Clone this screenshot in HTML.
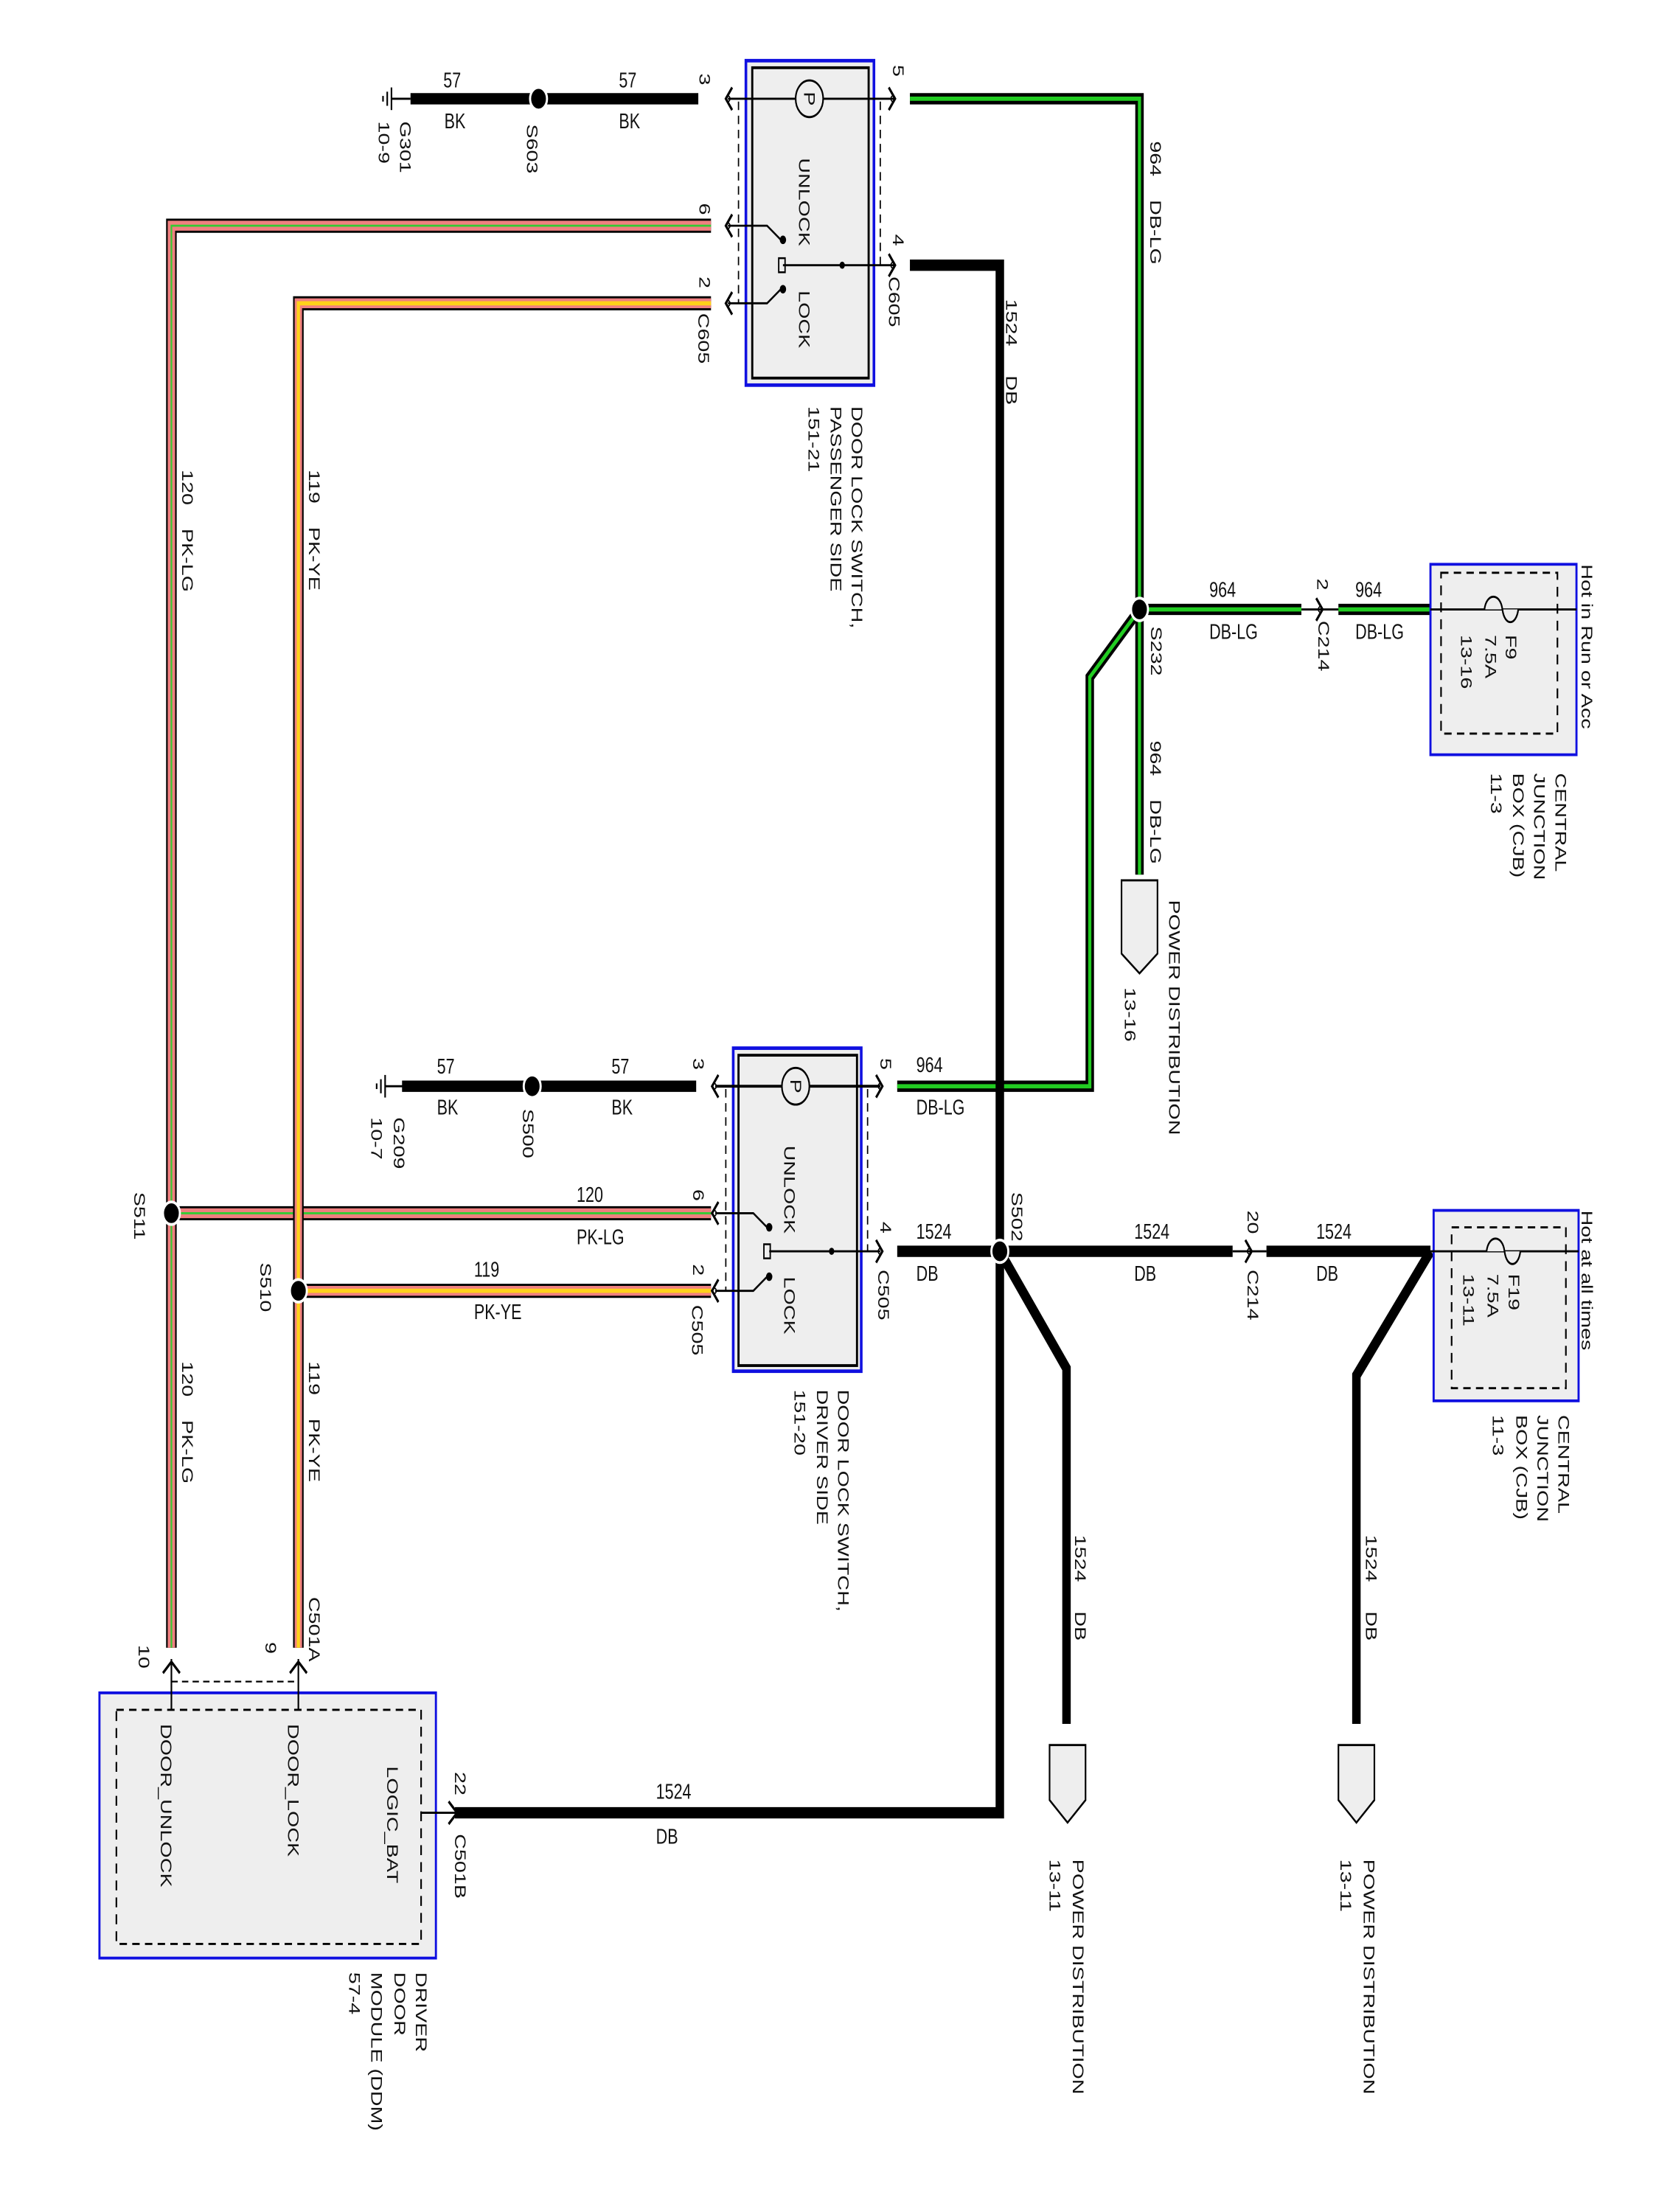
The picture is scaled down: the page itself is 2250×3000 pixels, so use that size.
<!DOCTYPE html>
<html><head><meta charset="utf-8"><style>
html,body{margin:0;padding:0;background:#fff;}
svg{display:block;}
text{font-family:"Liberation Sans Narrow","Liberation Sans",sans-serif;font-size:15px;fill:#111;}
</style></head><body>
<svg width="2250" height="3000" viewBox="0 0 1568 1568" preserveAspectRatio="none" xmlns="http://www.w3.org/2000/svg">
<defs>
<g id="chL"><path d="M6,-8 L0,0 L6,8" fill="none" stroke="#000" stroke-width="2"/><circle cx="2" cy="0" r="2" fill="none" stroke="#000" stroke-width="1"/></g>
<g id="chR"><path d="M-6,-8 L0,0 L-6,8" fill="none" stroke="#000" stroke-width="2"/><circle cx="-2" cy="0" r="2" fill="none" stroke="#000" stroke-width="1"/></g>
</defs>

<!-- ===== Passenger switch ===== -->
<rect x="705" y="43" width="121" height="230" fill="#eee" stroke="#1010e0" stroke-width="2.5"/>
<rect x="711" y="48" width="110" height="220" fill="none" stroke="#000" stroke-width="2"/>
<line x1="698" y1="72" x2="698" y2="215" stroke="#000" stroke-width="1.2" stroke-dasharray="6,4"/>
<line x1="832" y1="72" x2="832" y2="188" stroke="#000" stroke-width="1.2" stroke-dasharray="6,4"/>
<line x1="688" y1="70" x2="845" y2="70" stroke="#000" stroke-width="1.5"/>
<circle cx="765" cy="70" r="13" fill="#eee" stroke="#000" stroke-width="1.5"/>
<text transform="translate(760,70) rotate(90)" text-anchor="middle" font-size="11">P</text>
<use href="#chL" x="686" y="70"/><use href="#chR" x="846" y="70"/>
<use href="#chL" x="686" y="160"/><use href="#chL" x="686" y="215"/><use href="#chR" x="846" y="188"/>
<path d="M688,160 L725,160 L738,170" fill="none" stroke="#000" stroke-width="1.5"/><circle cx="740" cy="170" r="3" fill="#000"/>
<path d="M688,215 L725,215 L738,205" fill="none" stroke="#000" stroke-width="1.5"/><circle cx="740" cy="205" r="3" fill="#000"/>
<path d="M740,188 L845,188" stroke="#000" stroke-width="1.5"/><circle cx="796" cy="188" r="2.5" fill="#000"/>
<rect x="736" y="183" width="6" height="10" fill="none" stroke="#000" stroke-width="1.3"/>
<text transform="translate(755,112) rotate(90)">UNLOCK</text>
<text transform="translate(755,206) rotate(90)">LOCK</text>
<text transform="translate(661,52) rotate(90)" font-size="13">3</text>
<text transform="translate(844,46) rotate(90)" font-size="13">5</text>
<text transform="translate(661,144) rotate(90)" font-size="13">6</text>
<text transform="translate(844,166) rotate(90)" font-size="13">4</text>
<text transform="translate(661,196) rotate(90)" font-size="13">2</text>
<text transform="translate(840,196) rotate(90)" font-size="14">C605</text>
<text transform="translate(660,222) rotate(90)" font-size="14">C605</text>
<text transform="translate(805,288) rotate(90)" font-size="14">DOOR LOCK SWITCH,</text>
<text transform="translate(785,288) rotate(90)" font-size="14">PASSENGER SIDE</text>
<text transform="translate(764,288) rotate(90)" font-size="14">151-21</text>

<!-- top ground -->
<line x1="370" y1="70" x2="388" y2="70" stroke="#000" stroke-width="1.5"/>
<line x1="370" y1="62" x2="370" y2="78" stroke="#000" stroke-width="1.5"/>
<line x1="366" y1="65" x2="366" y2="75" stroke="#000" stroke-width="1.5"/>
<line x1="362" y1="68" x2="362" y2="72" stroke="#000" stroke-width="1.5"/>
<line x1="388" y1="70" x2="660" y2="70" stroke="#000" stroke-width="8"/>
<circle cx="509" cy="70" r="8" fill="#000" stroke="#fff" stroke-width="2"/>
<text x="419" y="62">57</text><text x="420" y="91">BK</text>
<text x="585" y="62">57</text><text x="585" y="91">BK</text>
<text transform="translate(378,86) rotate(90)" font-size="14">G301</text>
<text transform="translate(358,86) rotate(90)" font-size="14">10-9</text>
<text transform="translate(498,88) rotate(90)" font-size="14">S603</text>

<!-- green 964 -->
<path d="M860,70 L1077,70 L1077,620" fill="none" stroke="#000" stroke-width="8"/>
<path d="M860,70 L1077,70 L1077,620" fill="none" stroke="#22cc22" stroke-width="3"/>
<path d="M1077,432 L1030,480 L1030,770 L848,770" fill="none" stroke="#000" stroke-width="8"/>
<path d="M1077,432 L1030,480 L1030,770 L848,770" fill="none" stroke="#22cc22" stroke-width="3"/>
<path d="M1085,432 L1230,432 M1265,432 L1352,432" fill="none" stroke="#000" stroke-width="8"/>
<path d="M1085,432 L1230,432 M1265,432 L1352,432" fill="none" stroke="#22cc22" stroke-width="3"/>
<line x1="1230" y1="432" x2="1265" y2="432" stroke="#000" stroke-width="1.5"/>
<use href="#chR" x="1250" y="432"/>
<circle cx="1077" cy="432" r="8" fill="#000" stroke="#fff" stroke-width="2"/>
<text transform="translate(1087,100) rotate(90)" font-size="14" xml:space="preserve">964    DB-LG</text>
<text transform="translate(1087,525) rotate(90)" font-size="14" xml:space="preserve">964    DB-LG</text>
<text transform="translate(1088,444) rotate(90)" font-size="14">S232</text>
<text x="1143" y="423">964</text><text x="1143" y="453">DB-LG</text>
<text x="1281" y="423">964</text><text x="1281" y="453">DB-LG</text>
<text transform="translate(1245,410) rotate(90)" font-size="13">2</text>
<text transform="translate(1246,440) rotate(90)" font-size="14">C214</text>
<path d="M1060,624 L1094,624 L1094,676 L1077,690 L1060,676 Z" fill="#eee" stroke="#000" stroke-width="1.5"/>
<text transform="translate(1105,638) rotate(90)" font-size="14">POWER DISTRIBUTION</text>
<text transform="translate(1063,700) rotate(90)" font-size="14">13-16</text>

<!-- CJB top -->
<rect x="1352" y="400" width="138" height="135" fill="#eee" stroke="#1010e0" stroke-width="2"/>
<rect x="1362" y="406" width="110" height="114" fill="none" stroke="#000" stroke-width="1.5" stroke-dasharray="7,5"/>
<line x1="1352" y1="432" x2="1490" y2="432" stroke="#000" stroke-width="1.5"/>
<path d="M1403,432 C1405,420 1418,420 1420,432 C1422,444 1433,444 1435,432" fill="#eee" stroke="#000" stroke-width="1.5"/>
<text transform="translate(1423,450) rotate(90)" font-size="14">F9</text>
<text transform="translate(1404,450) rotate(90)" font-size="14">7.5A</text>
<text transform="translate(1381,450) rotate(90)" font-size="14">13-16</text>
<text transform="translate(1495,400) rotate(90)" font-size="14">Hot in Run or Acc</text>
<text transform="translate(1470,548) rotate(90)" font-size="14">CENTRAL</text>
<text transform="translate(1450,548) rotate(90)" font-size="14">JUNCTION</text>
<text transform="translate(1430,548) rotate(90)" font-size="14">BOX (CJB)</text>
<text transform="translate(1409,548) rotate(90)" font-size="14">11-3</text>

<!-- pink/yellow long wires -->
<path d="M672,160 L162,160 L162,1168" fill="none" stroke="#000" stroke-width="10"/>
<path d="M672,160 L162,160 L162,1168" fill="none" stroke="#f08080" stroke-width="7"/>
<path d="M672,160 L162,160 L162,1168" fill="none" stroke="#33cc33" stroke-width="1.5"/>
<path d="M672,860 L162,860" fill="none" stroke="#000" stroke-width="10"/>
<path d="M672,860 L162,860" fill="none" stroke="#f08080" stroke-width="7"/>
<path d="M672,860 L162,860" fill="none" stroke="#33cc33" stroke-width="1.5"/>
<path d="M672,215 L282,215 L282,1168" fill="none" stroke="#000" stroke-width="10"/>
<path d="M672,215 L282,215 L282,1168" fill="none" stroke="#f08080" stroke-width="7"/>
<path d="M672,215 L282,215 L282,1168" fill="none" stroke="#ffd21a" stroke-width="3"/>
<path d="M672,915 L282,915" fill="none" stroke="#000" stroke-width="10"/>
<path d="M672,915 L282,915" fill="none" stroke="#f08080" stroke-width="7"/>
<path d="M672,915 L282,915" fill="none" stroke="#ffd21a" stroke-width="3"/>
<circle cx="162" cy="860" r="8" fill="#000" stroke="#fff" stroke-width="2"/>
<circle cx="282" cy="915" r="8" fill="#000" stroke="#fff" stroke-width="2"/>
<text transform="translate(172,333) rotate(90)" font-size="14" xml:space="preserve">120    PK-LG</text>
<text transform="translate(292,333) rotate(90)" font-size="14" xml:space="preserve">119    PK-YE</text>
<text transform="translate(172,965) rotate(90)" font-size="14" xml:space="preserve">120    PK-LG</text>
<text transform="translate(292,965) rotate(90)" font-size="14" xml:space="preserve">119    PK-YE</text>
<text transform="translate(292,1132) rotate(90)" font-size="14">C501A</text>
<text transform="translate(127,845) rotate(90)" font-size="14">S511</text>
<text transform="translate(246,895) rotate(90)" font-size="14">S510</text>
<text x="545" y="852">120</text><text x="545" y="882">PK-LG</text>
<text x="448" y="905">119</text><text x="448" y="935">PK-YE</text>

<!-- black 1524 -->
<path d="M860,188 L945,188 L945,1285 L430,1285" fill="none" stroke="#000" stroke-width="8"/>
<path d="M848,887 L1165,887 M1197,887 L1352,887" fill="none" stroke="#000" stroke-width="8"/>
<line x1="1165" y1="887" x2="1197" y2="887" stroke="#000" stroke-width="1.5"/>
<use href="#chR" x="1183" y="887"/>
<path d="M945,887 L1008,970 L1008,1222" fill="none" stroke="#000" stroke-width="8"/>
<path d="M1352,887 L1282,975 L1282,1222" fill="none" stroke="#000" stroke-width="8"/>
<circle cx="945" cy="887" r="8" fill="#000" stroke="#fff" stroke-width="2"/>
<text transform="translate(951,212) rotate(90)" font-size="14" xml:space="preserve">1524     DB</text>
<text transform="translate(1016,1088) rotate(90)" font-size="14" xml:space="preserve">1524     DB</text>
<text transform="translate(1291,1088) rotate(90)" font-size="14" xml:space="preserve">1524     DB</text>
<text x="866" y="878">1524</text><text x="866" y="908">DB</text>
<text x="1072" y="878">1524</text><text x="1072" y="908">DB</text>
<text x="1244" y="878">1524</text><text x="1244" y="908">DB</text>
<text transform="translate(956,845) rotate(90)" font-size="14">S502</text>
<text transform="translate(1179,858) rotate(90)" font-size="13">20</text>
<text transform="translate(1179,900) rotate(90)" font-size="14">C214</text>
<text x="620" y="1275">1524</text><text x="620" y="1307">DB</text>
<path d="M992,1237 L1026,1237 L1026,1276 L1009,1292 L992,1276 Z" fill="#eee" stroke="#000" stroke-width="1.5"/>
<path d="M1265,1237 L1299,1237 L1299,1276 L1282,1292 L1265,1276 Z" fill="#eee" stroke="#000" stroke-width="1.5"/>
<text transform="translate(1014,1318) rotate(90)" font-size="14">POWER DISTRIBUTION</text>
<text transform="translate(992,1318) rotate(90)" font-size="14">13-11</text>
<text transform="translate(1289,1318) rotate(90)" font-size="14">POWER DISTRIBUTION</text>
<text transform="translate(1267,1318) rotate(90)" font-size="14">13-11</text>

<!-- CJB bottom -->
<rect x="1355" y="858" width="137" height="135" fill="#eee" stroke="#1010e0" stroke-width="2"/>
<rect x="1372" y="870" width="108" height="114" fill="none" stroke="#000" stroke-width="1.5" stroke-dasharray="7,5"/>
<line x1="1352" y1="887" x2="1492" y2="887" stroke="#000" stroke-width="1.5"/>
<path d="M1405,887 C1407,875 1420,875 1422,887 C1424,899 1435,899 1437,887" fill="#eee" stroke="#000" stroke-width="1.5"/>
<text transform="translate(1426,903) rotate(90)" font-size="14">F19</text>
<text transform="translate(1406,903) rotate(90)" font-size="14">7.5A</text>
<text transform="translate(1383,903) rotate(90)" font-size="14">13-11</text>
<text transform="translate(1495,858) rotate(90)" font-size="14">Hot at all times</text>
<text transform="translate(1473,1003) rotate(90)" font-size="14">CENTRAL</text>
<text transform="translate(1453,1003) rotate(90)" font-size="14">JUNCTION</text>
<text transform="translate(1433,1003) rotate(90)" font-size="14">BOX (CJB)</text>
<text transform="translate(1411,1003) rotate(90)" font-size="14">11-3</text>

<!-- ===== Driver switch ===== -->
<rect x="693" y="743" width="121" height="229" fill="#eee" stroke="#1010e0" stroke-width="2.5"/>
<rect x="698" y="748" width="112" height="220" fill="none" stroke="#000" stroke-width="2"/>
<line x1="686" y1="772" x2="686" y2="915" stroke="#000" stroke-width="1.2" stroke-dasharray="6,4"/>
<line x1="820" y1="772" x2="820" y2="887" stroke="#000" stroke-width="1.2" stroke-dasharray="6,4"/>
<line x1="676" y1="770" x2="832" y2="770" stroke="#000" stroke-width="2"/>
<circle cx="752" cy="770" r="13" fill="#eee" stroke="#000" stroke-width="1.5"/>
<text transform="translate(747,770) rotate(90)" text-anchor="middle" font-size="11">P</text>
<use href="#chL" x="673" y="770"/><use href="#chR" x="834" y="770"/>
<use href="#chL" x="673" y="860"/><use href="#chL" x="673" y="915"/><use href="#chR" x="834" y="887"/>
<path d="M676,860 L712,860 L725,870" fill="none" stroke="#000" stroke-width="1.5"/><circle cx="727" cy="870" r="3" fill="#000"/>
<path d="M676,915 L712,915 L725,905" fill="none" stroke="#000" stroke-width="1.5"/><circle cx="727" cy="905" r="3" fill="#000"/>
<path d="M727,887 L832,887" stroke="#000" stroke-width="1.5"/><circle cx="786" cy="887" r="2.5" fill="#000"/>
<rect x="722" y="882" width="6" height="10" fill="none" stroke="#000" stroke-width="1.3"/>
<text transform="translate(741,812) rotate(90)">UNLOCK</text>
<text transform="translate(741,905) rotate(90)">LOCK</text>
<text transform="translate(655,750) rotate(90)" font-size="13">3</text>
<text transform="translate(832,750) rotate(90)" font-size="13">5</text>
<text transform="translate(655,843) rotate(90)" font-size="13">6</text>
<text transform="translate(832,866) rotate(90)" font-size="13">4</text>
<text transform="translate(655,896) rotate(90)" font-size="13">2</text>
<text transform="translate(830,900) rotate(90)" font-size="14">C505</text>
<text transform="translate(654,925) rotate(90)" font-size="14">C505</text>
<text transform="translate(792,985) rotate(90)" font-size="14">DOOR LOCK SWITCH,</text>
<text transform="translate(772,985) rotate(90)" font-size="14">DRIVER SIDE</text>
<text transform="translate(751,985) rotate(90)" font-size="14">151-20</text>
<text x="866" y="760">964</text><text x="866" y="790">DB-LG</text>

<!-- driver ground -->
<line x1="364" y1="770" x2="382" y2="770" stroke="#000" stroke-width="1.5"/>
<line x1="364" y1="762" x2="364" y2="778" stroke="#000" stroke-width="1.5"/>
<line x1="360" y1="765" x2="360" y2="775" stroke="#000" stroke-width="1.5"/>
<line x1="356" y1="768" x2="356" y2="772" stroke="#000" stroke-width="1.5"/>
<line x1="380" y1="770" x2="658" y2="770" stroke="#000" stroke-width="8"/>
<circle cx="503" cy="770" r="8" fill="#000" stroke="#fff" stroke-width="2"/>
<text x="413" y="761">57</text><text x="413" y="790">BK</text>
<text x="578" y="761">57</text><text x="578" y="790">BK</text>
<text transform="translate(372,792) rotate(90)" font-size="14">G209</text>
<text transform="translate(351,792) rotate(90)" font-size="14">10-7</text>
<text transform="translate(494,786) rotate(90)" font-size="14">S500</text>

<!-- DDM -->
<rect x="94" y="1200" width="318" height="188" fill="#eee" stroke="#1010e0" stroke-width="2"/>
<rect x="110" y="1212" width="288" height="166" fill="none" stroke="#000" stroke-width="1.5" stroke-dasharray="7,5"/>
<line x1="162" y1="1176" x2="162" y2="1212" stroke="#000" stroke-width="1.5"/>
<line x1="282" y1="1176" x2="282" y2="1212" stroke="#000" stroke-width="1.5"/>
<path d="M154,1186 L162,1178 L170,1186 M274,1186 L282,1178 L290,1186" fill="none" stroke="#000" stroke-width="2"/>
<line x1="162" y1="1192" x2="282" y2="1192" stroke="#000" stroke-width="1.2" stroke-dasharray="6,4"/>
<line x1="398" y1="1285" x2="432" y2="1285" stroke="#000" stroke-width="1.5"/>
<path d="M424,1277 L432,1285 L424,1293" fill="none" stroke="#000" stroke-width="2"/>
<text transform="translate(152,1222) rotate(90)" font-size="15">DOOR_UNLOCK</text>
<text transform="translate(272,1222) rotate(90)" font-size="15">DOOR_LOCK</text>
<text transform="translate(366,1252) rotate(90)" font-size="15">LOGIC_BAT</text>
<text transform="translate(131,1166) rotate(90)" font-size="13">10</text>
<text transform="translate(251,1164) rotate(90)" font-size="13">9</text>
<text transform="translate(430,1256) rotate(90)" font-size="13">22</text>
<text transform="translate(430,1300) rotate(90)" font-size="14">C501B</text>
<text transform="translate(393,1398) rotate(90)" font-size="14">DRIVER</text>
<text transform="translate(373,1398) rotate(90)" font-size="14">DOOR</text>
<text transform="translate(351,1398) rotate(90)" font-size="14">MODULE (DDM)</text>
<text transform="translate(330,1398) rotate(90)" font-size="14">57-4</text>
</svg>
</body></html>
